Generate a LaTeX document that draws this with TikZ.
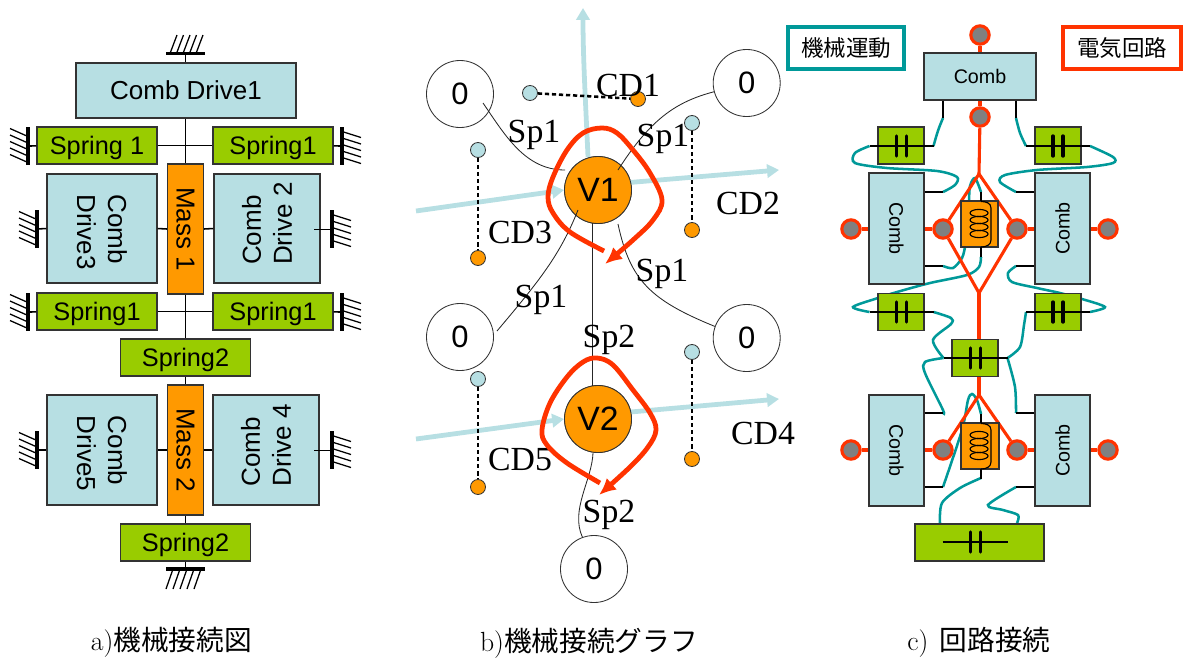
\documentclass[tikz,border=0pt]{standalone}
\usepackage{fontspec}
\setsansfont{Liberation Sans}
\newfontfamily\graphfont{Liberation Serif}
\newfontfamily\jpfont{Noto Sans CJK JP}
\usetikzlibrary{arrows.meta,calc}

\definecolor{combblue}{HTML}{B7DFE3}
\definecolor{springgreen}{HTML}{99CC00}
\definecolor{massorange}{HTML}{FF9900}
\definecolor{loopred}{HTML}{FF3300}
\definecolor{wireteal}{HTML}{009999}
\definecolor{termgray}{HTML}{808080}

\tikzset{
    box/.style={draw=black!80, line width=0.8pt, inner sep=0pt, align=center, font=\sffamily\fontsize{18.5}{22}\selectfont},
    combbox/.style={box, fill=combblue},
    springbox/.style={box, fill=springgreen, text depth=0pt, font=\sffamily\fontsize{18}{22}\selectfont},
    massbox/.style={box, fill=massorange},
    smallcomb/.style={combbox, font=\sffamily\fontsize{14}{17}\selectfont},
    link/.style={line width=1.1pt, black},
    gndbar/.style={line width=2.6pt, black},
    gndhatch/.style={line width=0.9pt, black},
    graphnode/.style={circle, draw=black!80, line width=0.6pt, minimum size=1.675cm, inner sep=0pt, font=\sffamily\fontsize{22}{24}\selectfont},
    massnode/.style={graphnode, fill=massorange, font=\sffamily\fontsize{24}{26}\selectfont},
    dotnode/.style={circle, draw=black!80, line width=0.6pt, minimum size=0.375cm, inner sep=0pt},
    graphtext/.style={font=\graphfont\fontsize{24}{26}\selectfont, inner sep=0pt},
    captext/.style={font=\fontsize{19.7}{22}\selectfont, inner sep=0pt},
    thinedge/.style={line width=0.6pt, black!85},
    dashedge/.style={line width=1.8pt, black, dash pattern=on 3pt off 2pt},
    bluearrow/.style={line width=3.4pt, combblue, -{Triangle[length=8.5pt,width=9.5pt]}},
    redloop/.style={line width=3.4pt, loopred, -{Latex[length=12pt,width=11pt]}},
    redline/.style={line width=2.2pt, loopred},
    wire/.style={line width=1.8pt, wireteal},
    stub/.style={line width=1.1pt, black},
    plate/.style={line width=2.4pt, black, line cap=round},
    terminal/.style={circle, draw=loopred, fill=termgray, line width=2.2pt, minimum size=0.46cm, inner sep=0pt},
    legend/.style={draw=#1, fill=white, line width=2.5pt, minimum height=1.05cm, inner sep=0pt, font=\jpfont\fontsize{16}{18}\selectfont}
}

\begin{document}
\begin{tikzpicture}[x=0.025cm, y=-0.025cm]
    \useasboundingbox (0,0) rectangle (1184,659);

    % 1. Mechanical connection diagram: ground symbols
    \coordinate (gndTop) at (185.5,53.5);
    \coordinate (gndBot) at (185.5,569);
    \coordinate (gndA) at (28,146);
    \coordinate (gndB) at (342,146);
    \coordinate (gndC) at (37,229);
    \coordinate (gndD) at (332,229);
    \coordinate (gndE) at (28,312);
    \coordinate (gndF) at (342,312);
    \coordinate (gndG) at (37,450);
    \coordinate (gndH) at (332,450);
    \coordinate (innerB) at (314,229);
    \coordinate (innerD) at (314,450);

    \foreach \gx/\gy in {28/146,37/229,28/312,37/450}{
        \draw[gndbar] (\gx,\gy-19) -- (\gx,\gy+19);
        \foreach \d in {-17.5,-11,-4.5,2,8.5}
            \draw[gndhatch] (\gx-18,\gy+\d) -- (\gx,\gy+\d+8);
    }
    \foreach \gx/\gy in {342/146,332/229,342/312,332/450}{
        \draw[gndbar] (\gx,\gy-19) -- (\gx,\gy+19);
        \foreach \d in {-14.5,-8,-1.5,5,11.5}
            \draw[gndhatch] (\gx,\gy+\d) -- (\gx+19,\gy+\d+6);
    }
    \draw[gndbar] (166,53.5) -- (205,53.5);
    \draw[gndbar] (166,569) -- (205,569);
    \foreach \t in {177,183.5,190,196.5,203}
        \draw[gndhatch] (\t-7,53.5) -- (\t,35);
    \foreach \t in {173,180,187,194,201}
        \draw[gndhatch] (\t,569) -- (\t-7,589);

    % 2. Boxes of the diagram
    \node[combbox, minimum width=5.5cm, minimum height=1.375cm] (driveA) at (186,90.5) {Comb Drive1};
    \node[springbox, minimum width=3cm, minimum height=0.925cm] (springA) at (97,145.5) {Spring 1};
    \node[springbox, minimum width=3cm, minimum height=0.925cm] (springB) at (273,145.5) {Spring1};
    \node[massbox, rotate=-90, minimum width=3.25cm, minimum height=0.9cm] (massA) at (185.5,229) {Mass 1};
    \node[combbox, rotate=-90, minimum width=2.725cm, minimum height=2.75cm, align=left] (driveC) at (102,228.5) {\hspace*{5pt}Comb\\\hspace*{5pt}Drive3};
    \node[combbox, rotate=90, minimum width=2.725cm, minimum height=2.65cm, align=left] (driveB) at (267,228.5) {\hspace*{7pt}Comb\\\hspace*{7pt}Drive 2};
    \node[springbox, minimum width=3cm, minimum height=0.925cm] (springC) at (97,311.5) {Spring1};
    \node[springbox, minimum width=3cm, minimum height=0.925cm] (springD) at (273,311.5) {Spring1};
    \node[springbox, minimum width=3.25cm, minimum height=0.925cm] (springE) at (185.5,357.5) {Spring2};
    \node[massbox, rotate=-90, minimum width=3.25cm, minimum height=0.9cm] (massB) at (185.5,450) {Mass 2};
    \node[combbox, rotate=-90, minimum width=2.75cm, minimum height=2.75cm, align=left] (driveE) at (102,450) {\hspace*{5pt}Comb\\\hspace*{5pt}Drive5};
    \node[combbox, rotate=90, minimum width=2.75cm, minimum height=2.65cm, align=left] (driveD) at (266,450) {\hspace*{7pt}Comb\\\hspace*{7pt}Drive 4};
    \node[springbox, minimum width=3.25cm, minimum height=0.925cm] (springF) at (185.5,542.5) {Spring2};

    % 3. Links of the diagram
    \draw[link] (gndTop) -- (driveA.north -| gndTop);
    \draw[link] (driveA.south -| gndTop) -- (massA.west);
    \draw[link] (gndA) -- (springA);
    \draw[link] (springA) -- (springB);
    \draw[link] (springB) -- (gndB);
    \draw[link] (gndC) -- (driveC.south);
    \draw[link] (driveC.north) -- (massA.south);
    \draw[link] (massA.north) -- (driveB.north);
    \draw[line width=0.7pt, black] (innerB) -- (gndD);
    \draw[link] (gndE) -- (springC);
    \draw[link] (springC) -- (springD);
    \draw[link] (springD) -- (gndF);
    \draw[link] (massA.east) -- (springE.north);
    \draw[link] (springE.south) -- (massB.west);
    \draw[link] (gndG) -- (driveE.south);
    \draw[link] (driveE.north) -- (massB.south);
    \draw[link] (massB.north) -- (driveD.north);
    \draw[line width=0.7pt, black] (innerD) -- (gndH);
    \draw[link] (massB.east) -- (springF.north);
    \draw[link] (springF.south) -- (gndBot);
    \node[captext] (capA) at (171.5,642) {a)\jpfont 機械接続図};

    % 4. Mechanical connection graph: comb drive arrows
    \coordinate (blueUp) at (588,157);
    \coordinate (blueTip) at (583,8);
    \coordinate (blueA) at (416,211);
    \coordinate (blueB) at (779,170);
    \coordinate (blueC) at (416,439);
    \coordinate (blueD) at (779,399);

    \node[massnode] (massV) at (598,190) {V1};
    \node[massnode] (massW) at (598,419) {V2};
    \draw[bluearrow] (blueUp) .. controls (586,110) and (583,60) .. (blueTip);
    \draw[bluearrow] (blueA) -- (massV.west);
    \draw[bluearrow, shorten <=-1pt] (massV.13) -- (blueB);
    \draw[bluearrow] (blueC) -- (massW.west);
    \draw[bluearrow, shorten <=-1pt] (massW.12) -- (blueD);
    \node[massnode] at (massV) {V1};
    \node[massnode] at (massW) {V2};

    % 5. Circles of the fixed points
    \node[graphnode] (zeroA) at (460,94) {0};
    \node[graphnode] (zeroB) at (746.7,83) {0};
    \node[graphnode] (zeroC) at (460,337) {0};
    \node[graphnode] (zeroD) at (746.7,338) {0};
    \node[graphnode] (zeroE) at (594,569) {0};

    % 6. Dashed comb drive pairs
    \node[dotnode, fill=combblue] (topA) at (530,93) {};
    \node[dotnode, fill=massorange] (endA) at (638,99) {};
    \node[dotnode, fill=combblue] (topC) at (478,150) {};
    \node[dotnode, fill=massorange] (endC) at (478,258) {};
    \node[dotnode, fill=combblue] (topB) at (692,123) {};
    \node[dotnode, fill=massorange] (endB) at (692,230) {};
    \node[dotnode, fill=combblue] (topE) at (478,379) {};
    \node[dotnode, fill=massorange] (endE) at (478,487) {};
    \node[dotnode, fill=combblue] (topD) at (692,352) {};
    \node[dotnode, fill=massorange] (endD) at (692,459) {};
    \draw[dashedge] (topA) -- (endA);
    \draw[dashedge] (topC) -- (endC);
    \draw[dashedge] (topB) -- (endB);
    \draw[dashedge] (topE) -- (endE);
    \draw[dashedge] (topD) -- (endD);

    % 7. Spring edges (some run a little past the circle)
    \coordinate (edgeA) at (483,103);
    \coordinate (edgeB) at (565,170);
    \coordinate (edgeC) at (618,170);
    \coordinate (edgeD) at (578,210);
    \coordinate (edgeE) at (497,331);
    \coordinate (edgeF) at (618,224);
    \draw[thinedge] (edgeA) .. controls (505,135) and (525,170) .. (edgeB);
    \draw[thinedge] (zeroB.195) .. controls (675,102) and (650,120) .. (edgeC);
    \draw[thinedge] (edgeD) .. controls (560,255) and (540,280) .. (edgeE);
    \draw[thinedge] (edgeF) .. controls (630,280) and (650,300) .. (zeroD.160);
    \draw[thinedge] (592,223) -- (592,385.5);
    \draw[thinedge] (593,453) .. controls (592,480) and (570,510) .. (zeroE.110);

    % 8. Labels of the graph
    \node[graphtext] (labA) at (628,85) {CD1};
    \node[graphtext] (labB) at (748,203) {CD2};
    \node[graphtext] (labC) at (520,232) {CD3};
    \node[graphtext] (labD) at (763,433) {CD4};
    \node[graphtext] (labE) at (520,459) {CD5};
    \node[graphtext] (labF) at (534,135) {Sp1};
    \node[graphtext] (labG) at (663,139) {Sp1};
    \node[graphtext] (labH) at (541,300) {Sp1};
    \node[graphtext] (labI) at (662,274) {Sp1};
    \node[graphtext] (labJ) at (609,340) {Sp2};
    \node[graphtext] (labK) at (609,515) {Sp2};

    % 9. Red loops drawn by hand
    \draw[redloop] plot[smooth, tension=0.6] coordinates {(604,251) (570,232) (553,213) (548,197) (553,177) (567,150) (583,133) (602,128) (617,133) (633,150) (650,173) (662,200) (653,220) (633,240) (605,264)};
    \draw[redloop] plot[smooth, tension=0.6] coordinates {(600,483) (567,463) (547,445) (542,430) (550,403) (567,377) (583,362) (597,358) (613,365) (633,390) (650,413) (656,430) (648,447) (630,467) (599,495)};
    \node[captext] (capB) at (589,643) {b)\jpfont 機械接続グラフ};

    % 10. Circuit: end points of the black stubs and capacitor leads
    \coordinate (stubA) at (943,118);
    \coordinate (stubB) at (1016,118);
    \coordinate (stubC) at (943,192);
    \coordinate (stubD) at (1016,192);
    \coordinate (stubE) at (943,266);
    \coordinate (stubF) at (1016,266);
    \coordinate (stubG) at (943,413);
    \coordinate (stubH) at (1016,413);
    \coordinate (stubI) at (943,487);
    \coordinate (stubJ) at (1016,487);
    \coordinate (leadA) at (869.5,146);
    \coordinate (leadB) at (933.5,146);
    \coordinate (leadC) at (1026,146);
    \coordinate (leadD) at (1090,146);
    \coordinate (leadE) at (869.5,312);
    \coordinate (leadF) at (933.5,312);
    \coordinate (leadG) at (1026,312);
    \coordinate (leadH) at (1090,312);
    \coordinate (leadI) at (943.5,358);
    \coordinate (leadJ) at (1007.5,358);
    \coordinate (coilA) at (981,192);
    \coordinate (coilB) at (981,257);
    \coordinate (coilC) at (981,414);
    \coordinate (coilD) at (981,478);

    % 11. Teal wires of the mechanical motion
    \draw[wire] (stubA) .. controls (938,130) .. (leadB);
    \draw[wire] plot[smooth] coordinates {(stubB) (1020,133) (leadC)};
    \draw[wire] plot[smooth] coordinates {(leadA) (855,153) (855,163) (887,168) (937,171) (957,177) (955,185) (stubC)};
    \draw[wire] plot[smooth] coordinates {(leadD) (1113,157) (1113,163) (1087,167) (1037,170) (1005,175) (1000,182) (stubD)};
    \draw[wire] plot[smooth] coordinates {(969,202) (970,186) (975,178) (coilA)};
    \draw[wire] plot[smooth] coordinates {(stubE) (953,268) (962,258) (965,247)};
    \draw[wire] plot[smooth] coordinates {(coilB) (979,267) (967,275) (930,283) (897,292) (878,298) (853,307) (leadE)};
    \draw[wire] plot[smooth] coordinates {(stubF) (1008,273) (1012,282) (1037,288) (1060,293) (1082,299) (1105,307) (leadH)};
    \draw[wire] plot[smooth] coordinates {(leadF) (951,318) (951,324) (933,340) (leadI)};
    \draw[wire] plot[smooth] coordinates {(leadI) (925,362) (925,373) (943,410) (stubG)};
    \draw[wire] plot[smooth] coordinates {(leadG) (1024,325) (1020,347) (leadJ)};
    \draw[wire] plot[smooth] coordinates {(leadJ) (1015,387) (stubH)};
    \draw[wire] plot[smooth] coordinates {(stubI) (962,430) (968,400) (972,394) (977,400) (coilC)};
    \draw[wire] plot[smooth] coordinates {(coilD) (960,488) (942,503) (940,523)};
    \draw[wire] plot[smooth] coordinates {(stubJ) (988,505) (1003,510) (1018,515) (1017,523)};

    % 12. Red current paths
    \coordinate (splitA) at (979,174);
    \coordinate (joinA) at (979,293);
    \coordinate (splitB) at (979,395);

    \node[terminal] (termA) at (980,35) {};
    \node[terminal] (termB) at (980,117) {};
    \node[terminal] (termC) at (851,229) {};
    \node[terminal] (termD) at (943,229) {};
    \node[terminal] (termE) at (1017,229) {};
    \node[terminal] (termF) at (1108,229) {};
    \node[terminal] (termG) at (851,450) {};
    \node[terminal] (termH) at (943,450) {};
    \node[terminal] (termI) at (1017,450) {};
    \node[terminal] (termJ) at (1108,450) {};

    \draw[redline] (termA) -- (980,53);
    \draw[redline] (980,100) -- (termB);
    \draw[redline] (termB) -- (splitA);
    \draw[redline] (splitA) -- (termD) -- (joinA) -- (termE) -- (splitA);
    \draw[redline] (joinA) -- (splitB);
    \draw[redline] (termH) -- (splitB) -- (termI);
    \draw[redline] (termC) -- (termD);
    \draw[redline] (termE) -- (termF);
    \draw[redline] (termG) -- (termH);
    \draw[redline] (termI) -- (termJ);

    % 13. Boxes of the circuit
    \node[smallcomb, minimum width=2.8cm, minimum height=1.175cm] (combA) at (980,76.5) {Comb};
    \node[smallcomb, rotate=-90, minimum width=2.775cm, minimum height=1.375cm] (combB) at (896.5,228.5) {Comb};
    \node[smallcomb, rotate=90, minimum width=2.775cm, minimum height=1.375cm] (combC) at (1062.5,228.5) {Comb};
    \node[smallcomb, rotate=-90, minimum width=2.775cm, minimum height=1.375cm] (combD) at (896.5,450.5) {Comb};
    \node[smallcomb, rotate=90, minimum width=2.775cm, minimum height=1.375cm] (combE) at (1062.5,450.5) {Comb};
    \node[springbox, minimum width=1.15cm, minimum height=0.925cm] (capA1) at (901,145.5) {};
    \node[springbox, minimum width=1.15cm, minimum height=0.925cm] (capB1) at (1058,145.5) {};
    \node[springbox, minimum width=1.15cm, minimum height=0.925cm] (capC1) at (901,312) {};
    \node[springbox, minimum width=1.15cm, minimum height=0.925cm] (capD1) at (1058,312) {};
    \node[springbox, minimum width=1.15cm, minimum height=0.925cm] (capE1) at (975,358) {};
    \node[springbox, minimum width=3.225cm, minimum height=0.925cm] (capF1) at (979.5,542.5) {};
    \node[massbox, minimum width=0.925cm, minimum height=1.15cm] (coilBoxA) at (979.5,224) {};
    \node[massbox, minimum width=0.95cm, minimum height=1.15cm] (coilBoxB) at (980,446) {};

    % 14. Stubs, capacitor plates and coils
    \draw[stub] (combA.south -| stubA) -- (stubA);
    \draw[stub] (combA.south -| stubB) -- (stubB);
    \draw[stub] (stubC -| combB.north) -- (stubC);
    \draw[stub] (stubE -| combB.north) -- (stubE);
    \draw[stub] (stubD -| combC.north) -- (stubD);
    \draw[stub] (stubF -| combC.north) -- (stubF);
    \draw[stub] (stubG -| combD.north) -- (stubG);
    \draw[stub] (stubI -| combD.north) -- (stubI);
    \draw[stub] (stubH -| combE.north) -- (stubH);
    \draw[stub] (stubJ -| combE.north) -- (stubJ);
    \draw[stub] (leadA) -- (leadB);
    \draw[stub] (leadC) -- (leadD);
    \draw[stub] (leadE) -- (leadF);
    \draw[stub] (leadG) -- (leadH);
    \draw[stub] (leadI) -- (leadJ);
    \draw[line width=0.9pt, black] (942.5,542) -- (1008,542);
    \foreach \cx/\cy in {901.5/146,1058/146,901.5/312,1058/312,975.5/358,975.5/542}{
        \draw[plate] (\cx-5,\cy-10) -- (\cx-5,\cy+10);
        \draw[plate] (\cx+5,\cy-10) -- (\cx+5,\cy+10);
    }
    \foreach \dy in {0,222}{
        \draw[stub] (981,192+\dy) -- (981,201+\dy);
        \draw[stub] (981,247+\dy) -- (981,257+\dy);
        \draw[line width=0.8pt, black] (981,201.5+\dy) .. controls (986,201.5+\dy) and (991,203+\dy) .. (991,208+\dy) -- (991,240+\dy) .. controls (991,245+\dy) and (986,247+\dy) .. (981,247+\dy);
        \foreach \ey in {213,220,227,234}
            \draw[line width=0.8pt, black] (979,\ey+\dy) ellipse [x radius=9, y radius=3.6];
    }

    % 15. Legend and caption
    \node[legend=wireteal, minimum width=2.9cm] (legA) at (846,48) {機械運動};
    \node[legend=loopred, minimum width=2.95cm] (legB) at (1122,48) {電気回路};
    \node[captext] (capC) at (979,642) {c)\hspace{8pt}\jpfont 回路接続};
\end{tikzpicture}
\end{document}
